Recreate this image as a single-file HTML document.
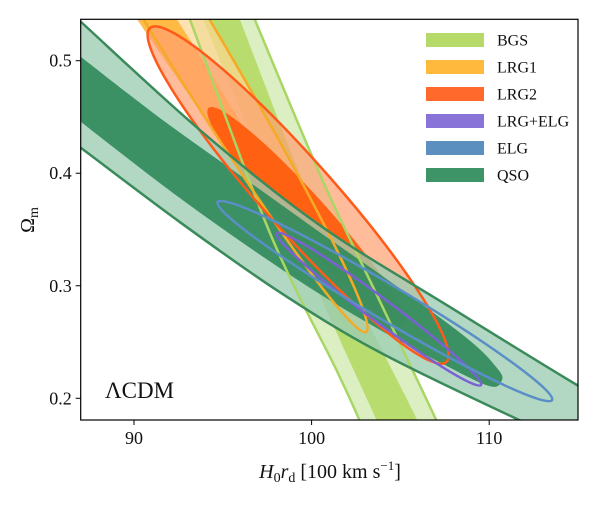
<!DOCTYPE html>
<html><head><meta charset="utf-8">
<style>
body{margin:0;background:#fff;}
svg text{font-family:"Liberation Serif","DejaVu Serif",serif;fill:#111;}
</style></head>
<body>
<svg id="chart" width="600" height="500" viewBox="0 0 600 500" xmlns="http://www.w3.org/2000/svg">
<defs><clipPath id="plotclip"><rect x="80.7" y="19.3" width="497.3" height="400.7"/></clipPath></defs>
<g id="marks" clip-path="url(#plotclip)"></g>
<g id="axes"></g>
</svg>
<script>
// ---- data (H0rd, Omega_m) ----
const xTicks = [90, 100, 110];
const yTicks = [0.2, 0.3, 0.4, 0.5];
const qsoUpper = [[85.84,0.5513],[87.02,0.5344],[93.71,0.4384],[100.44,0.3540],[107.75,0.2815],[114.94,0.2118],[118.42,0.1807]];
const qsoLower = [[85.84,0.4357],[87.02,0.4224],[92.58,0.3566],[98.20,0.2944],[103.81,0.2411],[111.68,0.1807],[118.42,0.1318]];
const qsoInner = [[85.84,0.5184],[87.02,0.5033],[91.46,0.4491],[95.95,0.3984],[100.44,0.3478],[104.94,0.2980],[108.87,0.2518],[110.44,0.2269],[110.72,0.2162],[109.99,0.2109],[107.18,0.2322],[102.69,0.2713],[98.20,0.3158],[92.58,0.3780],[87.02,0.4455],[85.84,0.4606]];
const bgsOuterLeft = [[92.47,0.5628],[93.14,0.5371],[97.63,0.3478],[101.40,0.2251],[102.69,0.1807],[103.25,0.1584]];
const bgsOuterRight = [[96.17,0.5628],[96.79,0.5371],[100.61,0.3940],[103.81,0.2873],[107.02,0.1807],[107.63,0.1584]];
const bgsInnerLeft = [[93.26,0.5628],[93.88,0.5371],[98.88,0.3478],[103.65,0.1807],[104.26,0.1584]];
const bgsInnerRight = [[95.33,0.5628],[95.95,0.5371],[100.55,0.3540],[105.95,0.1807],[106.57,0.1584]];
// ellipses: [x1,y1,x2,y2,halfWidth(x-units)]
const lrg1Outer = [103.08,0.2589,79.02,0.8847,1.6];
const lrg1Inner = [98.48,0.3646,81.34,0.7757,0.95];
const lrg2Outer = [90.90,0.5290,107.58,0.2322,2.0];
const lrg2Inner = [94.20,0.4580,105.20,0.2650,1.2];
const lrgElg = [98.03,0.3468,109.54,0.2117,0.65];
const elg = [94.71,0.3744,113.54,0.1984,0.98];
const legendLabels = ["BGS","LRG1","LRG2","LRG+ELG","ELG","QSO"];
const legendColors = ["#b5da6a","#ffb93c","#ff6a2c","#8873d8","#5b8fc0","#3d9466"];

// ---- axes ----
const X0=87,X1=115,PX0=80.7,PX1=578;
const Y0=0.1807,Y1=0.5368,PY0=420,PY1=19.3;
const sx=v=>PX0+(v-X0)/(X1-X0)*(PX1-PX0);
const sy=v=>PY0-(v-Y0)/(Y1-Y0)*(PY0-PY1);
const NS="http://www.w3.org/2000/svg";
const marks=document.getElementById('marks');
const axes=document.getElementById('axes');
function mk(tag,attrs,parent){const e=document.createElementNS(NS,tag);for(const k in attrs)e.setAttribute(k,attrs[k]);parent.appendChild(e);return e;}
function crPath(pts){
  let d=`M${pts[0][0]},${pts[0][1]}`;
  for(let i=0;i<pts.length-1;i++){
    const p0=pts[Math.max(i-1,0)],p1=pts[i],p2=pts[i+1],p3=pts[Math.min(i+2,pts.length-1)];
    d+=` C${p1[0]+(p2[0]-p0[0])/6},${p1[1]+(p2[1]-p0[1])/6} ${p2[0]-(p3[0]-p1[0])/6},${p2[1]-(p3[1]-p1[1])/6} ${p2[0]},${p2[1]}`;
  }
  return d;
}
function closedPath(pts){
  const n=pts.length;let d=`M${pts[0][0]},${pts[0][1]}`;
  for(let i=0;i<n;i++){
    const p0=pts[(i-1+n)%n],p1=pts[i],p2=pts[(i+1)%n],p3=pts[(i+2)%n];
    d+=` C${p1[0]+(p2[0]-p0[0])/6},${p1[1]+(p2[1]-p0[1])/6} ${p2[0]-(p3[0]-p1[0])/6},${p2[1]-(p3[1]-p1[1])/6} ${p2[0]},${p2[1]}`;
  }
  return d+'Z';
}
const toPx=a=>a.map(p=>[sx(p[0]),sy(p[1])]);
function band(a,b){const pa=toPx(a),pb=toPx(b).reverse();return crPath(pa)+' L'+crPath(pb).slice(1)+' Z';}
function ellipse(e,attrs,name){
  const x1=sx(e[0]),y1=sy(e[1]),x2=sx(e[2]),y2=sy(e[3]);
  const cx=(x1+x2)/2,cy=(y1+y2)/2,rx=Math.hypot(x2-x1,y2-y1)/2,ry=e[4]*(PX1-PX0)/(X1-X0);
  const ang=Math.atan2(y2-y1,x2-x1)*180/Math.PI;
  const el=mk('ellipse',Object.assign({cx,cy,rx,ry,transform:`rotate(${ang} ${cx} ${cy})`},attrs),marks);
  
  
  return el;
}
function pathEl(d,attrs,name){
  const el=mk('path',Object.assign({d},attrs),marks);
  
  
  return el;
}
// fills
pathEl(band(bgsOuterLeft,bgsOuterRight),{fill:'#dcefc2'},'bgs-contour-95');
pathEl(band(bgsInnerLeft,bgsInnerRight),{fill:'#b8dc6e'},'bgs-contour-68');
ellipse(lrg1Outer,{fill:'#ffd590','fill-opacity':0.7},'lrg1-contour-95');
ellipse(lrg1Inner,{fill:'#ffb63a','fill-opacity':0.9},'lrg1-contour-68');
ellipse(lrg2Outer,{fill:'#ffa070','fill-opacity':0.7},'lrg2-contour-95');
ellipse(lrg2Inner,{fill:'#ff5a0a','fill-opacity':0.92},'lrg2-contour-68');
pathEl(band(qsoUpper,qsoLower),{fill:'#9ccdb3','fill-opacity':0.78},'qso-contour-95');
pathEl(closedPath(toPx(qsoInner)),{fill:'#2f8a5a','fill-opacity':0.9},'qso-contour-68');
// outlines
pathEl(crPath(toPx(bgsOuterLeft)),{fill:'none',stroke:'#a9d665','stroke-width':2.5},'bgs-edge-left');
pathEl(crPath(toPx(bgsOuterRight)),{fill:'none',stroke:'#a9d665','stroke-width':2.5},'bgs-edge-right');
ellipse(lrg1Outer,{fill:'none',stroke:'#f5aa25','stroke-width':2.5},'lrg1-outline');
ellipse(lrg2Outer,{fill:'none',stroke:'#ff5a1a','stroke-width':2.5},'lrg2-outline');
ellipse(lrgElg,{fill:'none',stroke:'#7a62d4','stroke-width':2.5},'lrg-elg-outline');
ellipse(elg,{fill:'none',stroke:'#5a8ec6','stroke-width':2.5},'elg-outline');
pathEl(crPath(toPx(qsoUpper)),{fill:'none',stroke:'#3a8a5a','stroke-width':2.5},'qso-edge-upper');
pathEl(crPath(toPx(qsoLower)),{fill:'none',stroke:'#3a8a5a','stroke-width':2.5},'qso-edge-lower');

// frame & ticks
const frame=mk('rect',{x:PX0,y:PY1,width:PX1-PX0,height:PY0-PY1,fill:'none',stroke:'#000','stroke-width':1.2},axes);


xTicks.forEach(t=>{
  const l=mk('line',{x1:sx(t),x2:sx(t),y1:PY0,y2:PY0+5,stroke:'#000','stroke-width':1},axes);
  
  
  const tx=mk('text',{x:sx(t),y:PY0+24,'text-anchor':'middle','font-size':18},axes);
  tx.textContent=t;
  
  
});
yTicks.forEach(t=>{
  const l=mk('line',{x1:PX0-5,x2:PX0,y1:sy(t),y2:sy(t),stroke:'#000','stroke-width':1},axes);
  
  
  const tx=mk('text',{x:PX0-9,y:sy(t)+6,'text-anchor':'end','font-size':18},axes);
  tx.textContent=t.toFixed(1);
  
  
});
// legend
legendLabels.forEach((lab,i)=>{
  const y=40+i*27;
  const r=mk('rect',{x:426,y:y-7,width:58,height:14,fill:legendColors[i]},axes);
  
  
  const t=mk('text',{x:497,y:y+5.5,'font-size':16},axes);
  t.textContent=lab;
  
  
});
</script>
<svg style="position:absolute;left:0;top:0" width="600" height="500">
<text x="105" y="398" font-size="23" style="font-family:'Liberation Serif',serif">ΛCDM</text>
<text x="330" y="478" font-size="20" text-anchor="middle" style="font-family:'Liberation Serif',serif"><tspan font-style="italic">H</tspan><tspan font-size="14" dy="4">0</tspan><tspan font-style="italic" dy="-4">r</tspan><tspan font-size="14" dy="4">d</tspan><tspan dy="-4"> [100 km s</tspan><tspan font-size="13" dy="-8">−1</tspan><tspan dy="8">]</tspan></text>
<text transform="translate(34,220) rotate(-90)" font-size="20" text-anchor="middle" style="font-family:'Liberation Serif',serif">Ω<tspan font-size="14" dy="4">m</tspan></text>
</svg>
</body></html>
